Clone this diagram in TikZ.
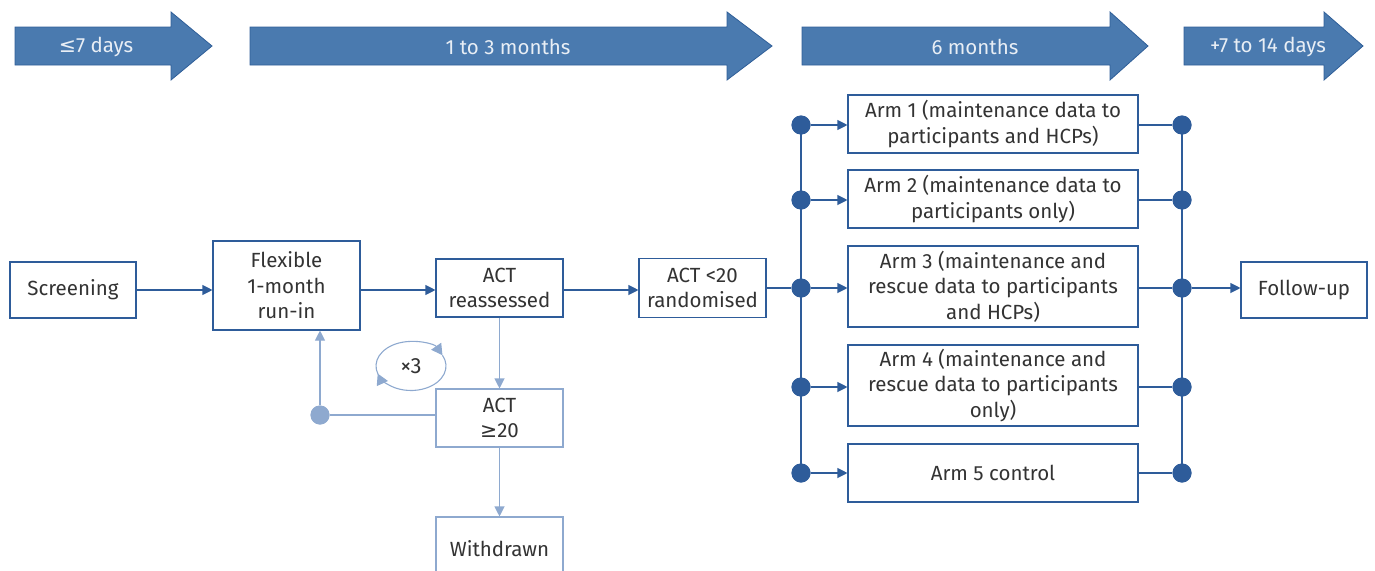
\documentclass[tikz,border=0pt]{standalone}
\usepackage{fontspec}
\setmainfont{Fira Sans}
\newfontfamily\symf{DejaVu Sans}
\usetikzlibrary{arrows.meta,calc}
\definecolor{dk}{HTML}{2E5C9A}
\definecolor{lt}{HTML}{8EA9CF}
\definecolor{af}{HTML}{4A7AAF}
\definecolor{ab}{HTML}{2F5E98}
\definecolor{txt}{HTML}{333333}
\definecolor{aw}{HTML}{E8EEF5}
\begin{document}
\begin{tikzpicture}[x=1pt,y=-1pt,
  box/.style={draw=dk, line width=1.1pt, fill=white, text=txt, align=center,
    font=\fontsize{20.5}{25.5}\selectfont, inner sep=0pt},
  lbox/.style={box, draw=lt},
  phase/.style={fill=af, draw=ab, line width=0.8pt},
  ptext/.style={text=aw, font=\fontsize{20.5}{22}\selectfont},
  arr/.style={draw=dk, line width=1.1pt, -{Triangle[length=10pt,width=10pt]}},
  ln/.style={draw=dk, line width=1.1pt},
  larr/.style={draw=lt, line width=1.1pt, -{Triangle[length=10pt,width=10pt]}},
  lln/.style={draw=lt, line width=1.1pt},
  loopar/.style={draw=lt, line width=1.1pt, -{Triangle[length=11pt,width=12pt]}},
  dot/.style={circle, fill=dk, minimum size=19pt, inner sep=0pt},
  ldot/.style={circle, fill=lt, minimum size=19pt, inner sep=0pt}]
\useasboundingbox (0,0) rectangle (1375,570);
\clip (0,0) rectangle (1375,570);
% phase arrows
\path[phase] (15,27) -- (171,27) -- (171,12) -- (212,46) -- (171,80) -- (171,65) -- (15,65) -- cycle;
\node[ptext] (p1) at (96,47) {{\symf ≤}7 days};
\path[phase] (250,27) -- (727,27) -- (727,12) -- (772,46) -- (727,80) -- (727,65) -- (250,65) -- cycle;
\node[ptext] (p2) at (508,47) {1 to 3 months};
\path[phase] (802,27) -- (1110,27) -- (1110,12) -- (1148,46) -- (1110,80) -- (1110,65) -- (802,65) -- cycle;
\node[ptext] (p3) at (975,47) {6 months};
\path[phase] (1184,27) -- (1324,27) -- (1324,12) -- (1363,46) -- (1324,80) -- (1324,65) -- (1184,65) -- cycle;
\node[ptext] (p4) at (1268,47) {+7 to 14 days};
% main boxes
\node[box, minimum width=126pt, minimum height=56pt] (scr) at (73,290) {Screening};
\node[box, minimum width=147pt, minimum height=89pt] (run) at (286.5,285.5) {Flexible\\1-month\\run-in};
\node[box, minimum width=127pt, minimum height=58pt] (actr) at (499.5,288) {ACT\\reassessed};
\node[box, minimum width=127pt, minimum height=59pt] (rand) at (702.5,288) {ACT <20\\randomised};
\node[box, minimum width=290pt, minimum height=58pt] (a1) at (993,124) {Arm 1 (maintenance data to\\participants and HCPs)};
\node[box, minimum width=290pt, minimum height=58pt] (a2) at (993,199) {Arm 2 (maintenance data to\\participants only)};
\node[box, minimum width=290pt, minimum height=81pt] (a3) at (993,286.5) {Arm 3 (maintenance and\\rescue data to participants\\and HCPs)};
\node[box, minimum width=290pt, minimum height=81pt] (a4) at (993,385.5) {Arm 4 (maintenance and\\rescue data to participants\\only)};
\node[box, minimum width=290pt, minimum height=58pt] (a5) at (993,473) {Arm 5 control};
\node[box, minimum width=126pt, minimum height=56pt] (fu) at (1304,290) {Follow-up};
% light boxes
\node[lbox, minimum width=127pt, minimum height=58pt] (ge) at (499.5,418) {ACT\\{\symf ≥}20};
\node[lbox, minimum width=127pt, minimum height=64pt] (wd) at (499.5,549) {Withdrawn};
% dots
\node[dot] (l1) at (801,125) {};
\node[dot] (l2) at (801,200) {};
\node[dot] (l3) at (801,288) {};
\node[dot] (l4) at (801,387) {};
\node[dot] (l5) at (801,473) {};
\node[dot] (r1) at (1182,125) {};
\node[dot] (r2) at (1182,200) {};
\node[dot] (r3) at (1182,288) {};
\node[dot] (r4) at (1182,387) {};
\node[dot] (r5) at (1182,473) {};
\node[ldot] (ld) at (320,415) {};
% buses
\draw[ln] (l1.center) -- (l5.center);
\draw[ln] (r1.center) -- (r5.center);
% main connectors
\draw[arr] (scr.east) -- (run.west |- scr.east);
\draw[arr] (run.east |- scr.east) -- (actr.west |- scr.east);
\draw[arr] (actr.east |- scr.east) -- (rand.west |- scr.east);
\draw[ln] (rand.east |- l3) -- (l3);
\foreach \i in {1,...,5} {
  \draw[arr] (l\i) -- (l\i -| a\i.west);
  \draw[ln] (r\i -| a\i.east) -- (r\i);
}
\draw[arr] (r3) -- (fu.west |- r3);
% light connectors
\draw[larr] (actr.south) -- (ge.north);
\draw[larr] (ge.south) -- (wd.north);
\draw[lln] (ge.west |- ld) -- (ld);
\draw[larr] (ld) -- (ld |- run.south);
% repeat loop
\node[text=txt, font=\fontsize{22}{24}\selectfont] (loop) at (411,366) {×3};
\draw[loopar] (loop.center) ++(200:35pt and 24.5pt) arc[start angle=200, end angle=26, x radius=35pt, y radius=24.5pt];
\draw[loopar] (loop.center) ++(26:35pt and 24.5pt) arc[start angle=26, end angle=-162, x radius=35pt, y radius=24.5pt];
% dots on top
\foreach \n in {l1,l2,l3,l4,l5,r1,r2,r3,r4,r5} \fill[dk] (\n) circle (9.5pt);
\fill[lt] (ld) circle (9.5pt);
\end{tikzpicture}
\end{document}
